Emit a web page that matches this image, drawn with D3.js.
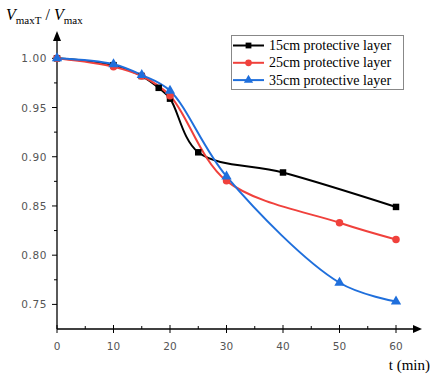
<!DOCTYPE html>
<html><head><meta charset="utf-8">
<script src="https://cdn.jsdelivr.net/npm/d3@7"></script>
<style>body{margin:0;background:#fff}svg{display:block}</style>
</head><body><svg id="c" width="431" height="377"></svg>
<script>
const seriesNames = ["15cm protective layer","25cm protective layer","35cm protective layer"];
const tBlack = [0,10,15,18,20,25,40,60];
const vBlack = [1.0,0.993,0.982,0.970,0.959,0.9045,0.884,0.849];
const tRed = [0,10,15,20,30,50,60];
const vRed = [1.0,0.9915,0.982,0.962,0.8755,0.833,0.816];
const tBlue = [0,10,15,20,30,50,60];
const vBlue = [1.0,0.994,0.983,0.967,0.880,0.772,0.753];
const xTicks = [0,10,20,30,40,50,60];
const yTicks = [0.75,0.80,0.85,0.90,0.95,1.00];
const colors = ["#000000","#f0413c","#1f6fdc"];
const markers = ["square","circle","triangle"];

const svg = d3.select("#c");
const x = d3.scaleLinear().domain([0,64.6]).range([57,422]);
const y = d3.scaleLinear().domain([0.725,1.0]).range([329,58.3]);
const tickCol = "#555";

// axes lines
const g = svg.append("g");
g.append("line").attr("x1",57).attr("x2",x(64.6)-6).attr("y1",329).attr("y2",329).attr("stroke","#000").attr("stroke-width",1.3);
g.append("line").attr("x1",57).attr("x2",57).attr("y1",329).attr("y2",38).attr("stroke","#000").attr("stroke-width",1.3);
g.append("path").attr("d",`M${x(64.6)},329 L${x(64.6)-9},325 L${x(64.6)-9},333 Z`).attr("fill","#000");
g.append("path").attr("d",`M57,31 L53,41 L61,41 Z`).attr("fill","#000");

// ticks
const xMinor = d3.range(5,64,10);
xTicks.forEach(t=>{
  g.append("line").attr("x1",x(t)).attr("x2",x(t)).attr("y1",325).attr("y2",333).attr("stroke","#000").attr("stroke-width",1);
  g.append("text").attr("x",x(t)).attr("y",350).attr("text-anchor","middle").attr("font-family","DejaVu Sans").attr("font-size",10.5).attr("fill",tickCol).text(t);
});
xMinor.forEach(t=>{
  g.append("line").attr("x1",x(t)).attr("x2",x(t)).attr("y1",326).attr("y2",329).attr("stroke","#000").attr("stroke-width",1);
});
yTicks.forEach(v=>{
  g.append("line").attr("x1",52).attr("x2",57).attr("y1",y(v)).attr("y2",y(v)).attr("stroke","#000").attr("stroke-width",1);
  g.append("text").attr("x",47).attr("y",y(v)+4).attr("text-anchor","end").attr("font-family","DejaVu Sans").attr("font-size",10.5).attr("letter-spacing",0.6).attr("fill",tickCol).text(d3.format(".2f")(v));
});
[0.775,0.825,0.875,0.925,0.975].forEach(v=>{
  g.append("line").attr("x1",54).attr("x2",57).attr("y1",y(v)).attr("y2",y(v)).attr("stroke","#000").attr("stroke-width",1);
});

// series
const data = [
  tBlack.map((t,i)=>[t,vBlack[i]]),
  tRed.map((t,i)=>[t,vRed[i]]),
  tBlue.map((t,i)=>[t,vBlue[i]])
];
const line = d3.line().x(d=>x(d[0])).y(d=>y(d[1])).curve(d3.curveCatmullRom.alpha(0.5));
const sym = {square:d3.symbolSquare,circle:d3.symbolCircle,triangle:d3.symbolTriangle};
const size = {square:42,circle:44,triangle:46};
data.forEach((d,i)=>{
  svg.append("path").attr("d",line(d)).attr("fill","none").attr("stroke",colors[i]).attr("stroke-width",2);
});
data.forEach((d,i)=>{
  svg.selectAll(null).data(d).enter().append("path")
    .attr("transform",p=>`translate(${x(p[0])},${y(p[1])})`)
    .attr("d",d3.symbol().type(sym[markers[i]]).size(size[markers[i]]))
    .attr("fill",colors[i]);
});

// legend
const lg = svg.append("g");
lg.append("rect").attr("x",231.5).attr("y",35.5).attr("width",172).attr("height",54).attr("fill","#fff").attr("stroke","#888").attr("stroke-width",1);
seriesNames.forEach((n,i)=>{
  const yy = 45.5 + i*17.3;
  lg.append("line").attr("x1",233).attr("x2",264).attr("y1",yy).attr("y2",yy).attr("stroke",colors[i]).attr("stroke-width",2);
  lg.append("path").attr("transform",`translate(248.5,${yy})`).attr("d",d3.symbol().type(sym[markers[i]]).size(size[markers[i]]*0.8)).attr("fill",colors[i]);
  lg.append("text").attr("x",269).attr("y",yy+4.5).attr("font-family","Liberation Serif").attr("font-size",14).attr("fill","#000").text(n);
});

// axis titles
const yt = svg.append("text").attr("x",6).attr("y",20).attr("font-family","Liberation Serif").attr("font-size",16).attr("fill","#000");
yt.append("tspan").attr("font-style","italic").text("V");
yt.append("tspan").attr("font-size",11).attr("dy",4).text("maxT");
yt.append("tspan").attr("dy",-4).text(" / ");
yt.append("tspan").attr("font-style","italic").text("V");
yt.append("tspan").attr("font-size",11).attr("dy",4).text("max");
svg.append("text").attr("x",430).attr("y",370).attr("text-anchor","end").attr("font-family","Liberation Serif").attr("font-size",15).attr("fill","#000").text("t (min)");
</script></body></html>
